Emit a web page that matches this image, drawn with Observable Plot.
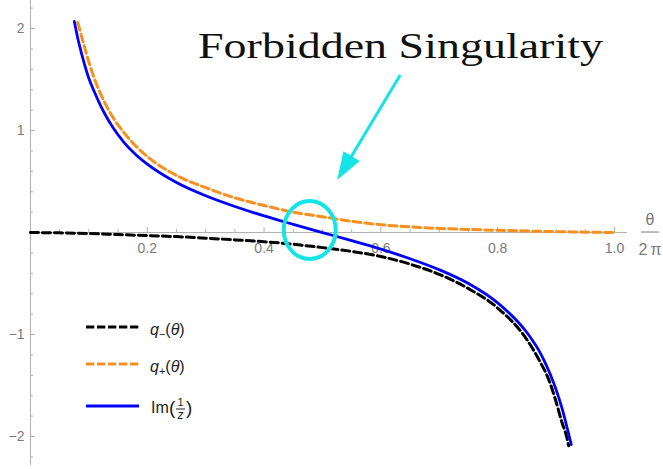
<!DOCTYPE html>
<html><head><meta charset="utf-8">
<script src="https://cdn.jsdelivr.net/npm/d3@7"></script>
<script src="https://cdn.jsdelivr.net/npm/@observablehq/plot@0.6"></script>
<style>body{margin:0;background:#fff} svg{display:block}</style>
</head><body><div id="chart"></div>
<script>
// Im(1/z)
const thetaIm = [0.075,0.08,0.09,0.1,0.11,0.12,0.13,0.14,0.16,0.18,0.2,0.25,0.3,0.35,0.4,0.45,0.5,0.55,0.6,0.65,0.7,0.75,0.8,0.85,0.86,0.87,0.88,0.89,0.9,0.91,0.92,0.926];
const imInv   = [2.07,1.93,1.70,1.51,1.37,1.245,1.135,1.04,0.885,0.765,0.67,0.49,0.36,0.255,0.163,0.08,0.0,-0.08,-0.163,-0.257,-0.365,-0.50,-0.69,-0.98,-1.06,-1.15,-1.26,-1.39,-1.54,-1.72,-1.94,-2.08];
// q+(theta)
const thetaPlus = [0.081,0.09,0.1,0.11,0.12,0.14,0.16,0.18,0.2,0.25,0.3,0.35,0.4,0.45,0.5,0.55,0.6,0.65,0.7,0.75,0.8,0.85,0.9,0.95,1.0];
const qPlus     = [2.06,1.87,1.67,1.50,1.36,1.14,0.98,0.85,0.745,0.56,0.44,0.34,0.265,0.20,0.155,0.11,0.077,0.055,0.04,0.03,0.022,0.015,0.009,0.004,0.0];
// q-(theta)
const thetaMinus = [0,0.05,0.1,0.15,0.2,0.25,0.3,0.35,0.4,0.45,0.5,0.55,0.6,0.65,0.7,0.75,0.8,0.85,0.87,0.89,0.9,0.91,0.918,0.9215];
const qMinus     = [0,-0.003,-0.01,-0.02,-0.03,-0.04,-0.055,-0.072,-0.09,-0.115,-0.148,-0.185,-0.235,-0.31,-0.41,-0.55,-0.74,-1.05,-1.24,-1.48,-1.66,-1.86,-2.0,-2.09];

const xMajorTicks = [0.2,0.4,0.6,0.8,1.0];
const xTickLabels = ["0.2","0.4","0.6","0.8","1.0"];
const xMinorTicks = [0.05,0.1,0.15,0.25,0.3,0.35,0.45,0.5,0.55,0.65,0.7,0.75,0.85,0.9,0.95];
const yMajorTicks = [-2,-1,1,2];
const yTickLabels = ["\u22122","\u22121","1","2"];
const yMinorTicks = [-2.2,-1.8,-1.6,-1.4,-1.2,-0.8,-0.6,-0.4,-0.2,0.2,0.4,0.6,0.8,1.2,1.4,1.6,1.8,2.2];

const xDomain = [0, 1.0223];
const yDomain = [-2.284, 2.275];
const axisColor = "#b0b0b0";
const labelColor = "#7a7a7a";
const colMinus = "#000000", colPlus = "#f7901e", colIm = "#0000ff";
const sans = "'Liberation Sans', Arial, sans-serif";

const plot = Plot.plot({
  width: 663, height: 469,
  marginLeft: 30, marginRight: 36, marginTop: 0, marginBottom: 4,
  x: {domain: xDomain, axis: null},
  y: {domain: yDomain, axis: null},
  style: {fontFamily: sans, fontSize: "14px", background: "#fff"},
  marks: [
    Plot.ruleY([0], {stroke: axisColor, strokeWidth: 1}),
    Plot.ruleX([0], {stroke: axisColor, strokeWidth: 1}),
    Plot.ruleX(xMajorTicks, {x: d => d, y1: 0, y2: 0, insetTop: -5, stroke: axisColor}),
    Plot.ruleX(xMinorTicks, {x: d => d, y1: 0, y2: 0, insetTop: -3, stroke: axisColor}),
    Plot.ruleY(yMajorTicks, {y: d => d, x1: 0, x2: 0, insetRight: -5, stroke: axisColor}),
    Plot.ruleY(yMinorTicks, {y: d => d, x1: 0, x2: 0, insetRight: -3, stroke: axisColor}),
    Plot.text(xMajorTicks, {x: d => d, y: 0, text: (d, i) => xTickLabels[i], dy: 16, fill: labelColor, fontSize: 14}),
    Plot.text(yMajorTicks, {x: 0, y: d => d, text: (d, i) => yTickLabels[i], textAnchor: "end", dx: -6, fill: labelColor, fontSize: 14}),
    Plot.line(d3.zip(thetaMinus, qMinus), {x: d => d[0], y: d => d[1], stroke: colMinus, strokeWidth: 3, strokeDasharray: "8,4", curve: "monotone-x"}),
    Plot.line(d3.zip(thetaPlus, qPlus), {x: d => d[0], y: d => d[1], stroke: colPlus, strokeWidth: 3, strokeDasharray: "8,4", curve: "monotone-x"}),
    Plot.line(d3.zip(thetaIm, imInv), {x: d => d[0], y: d => d[1], stroke: colIm, strokeWidth: 2.8, curve: "monotone-x"})
  ]
});
document.getElementById("chart").appendChild(plot);

const svg = d3.select(plot);
const X = v => plot.scale("x").apply(v), Y = v => plot.scale("y").apply(v);

// theta / 2pi axis label
const ax = X(xDomain[1]) + 23, ay = Y(0);
const axLab = svg.append("g").attr("fill", labelColor).attr("font-family", sans).attr("font-size", 16).attr("text-anchor", "middle");
axLab.append("text").attr("x", ax).attr("y", ay - 7).text("\u03B8");
axLab.append("line").attr("x1", ax - 9).attr("x2", ax + 9).attr("y1", ay).attr("y2", ay).attr("stroke", labelColor).attr("stroke-width", 1);
axLab.append("text").attr("x", ax).attr("y", ay + 23).text("2\u2009\u03C0");

// annotation: circle around the singularity
const cyan = "#14e4e6";
const singTheta = 0.479, singValue = 0.02;
svg.append("ellipse").attr("cx", X(singTheta)).attr("cy", Y(singValue)).attr("rx", 26).attr("ry", 29)
  .attr("fill", "none").attr("stroke", cyan).attr("stroke-width", 4);

// arrow
const arrowFrom = [0.634, 1.54], arrowTo = [0.526, 0.51];
const x0 = X(arrowFrom[0]), y0 = Y(arrowFrom[1]), x1 = X(arrowTo[0]), y1 = Y(arrowTo[1]);
const L = Math.hypot(x1 - x0, y1 - y0), ux = (x1 - x0) / L, uy = (y1 - y0) / L;
const hl = 28, hw = 9.5;
const bx = x1 - hl * ux, by = y1 - hl * uy;
svg.append("line").attr("x1", x0).attr("y1", y0).attr("x2", bx + 2 * ux).attr("y2", by + 2 * uy)
  .attr("stroke", cyan).attr("stroke-width", 3);
svg.append("path").attr("d", `M${x1},${y1}L${bx - hw * uy},${by + hw * ux}L${bx + hw * uy},${by - hw * ux}Z`).attr("fill", cyan);

svg.append("text").attr("x", 198).attr("y", 58).attr("text-anchor", "start")
  .attr("font-family", "'Liberation Serif', 'Times New Roman', serif")
  .attr("font-size", 36).attr("textLength", 405).attr("lengthAdjust", "spacingAndGlyphs").attr("fill", "#111")
  .text("Forbidden Singularity");

// legend
const lg = svg.append("g").attr("font-family", sans).attr("fill", "#222").attr("text-anchor", "start");
const rows = [
  {y: 327, color: colMinus, dash: "8.3,2.7"},
  {y: 364, color: colPlus, dash: "8.3,2.7"},
  {y: 406, color: colIm, dash: null}
];
rows.forEach(r => {
  const l = lg.append("line").attr("x1", 86).attr("x2", 139).attr("y1", r.y).attr("y2", r.y)
    .attr("stroke", r.color).attr("stroke-width", 3);
  if (r.dash) l.attr("stroke-dasharray", r.dash);
});
function qLabel(y, sub) {
  const t = lg.append("text").attr("x", 150).attr("y", y).attr("font-size", 16);
  t.append("tspan").attr("font-style", "italic").text("q");
  t.append("tspan").attr("font-size", 11).attr("dy", 3).text(sub);
  t.append("tspan").attr("dy", -3).text("(");
  t.append("tspan").attr("font-style", "italic").text("\u03B8");
  t.append("tspan").text(")");
}
qLabel(335, "\u2212");
qLabel(372, "+");
lg.append("text").attr("x", 151).attr("y", 413).attr("font-size", 16).text("Im");
lg.append("text").attr("x", 169).attr("y", 414).attr("font-size", 19).text("(");
lg.append("text").attr("x", 180.5).attr("y", 406).attr("font-size", 11).attr("text-anchor", "middle").text("1");
lg.append("line").attr("x1", 176).attr("x2", 185).attr("y1", 409).attr("y2", 409).attr("stroke", "#222").attr("stroke-width", 1);
lg.append("text").attr("x", 180.5).attr("y", 419).attr("font-size", 12).attr("font-style", "italic").attr("text-anchor", "middle").text("z");
lg.append("text").attr("x", 186).attr("y", 414).attr("font-size", 19).text(")");
</script>
</body></html>
